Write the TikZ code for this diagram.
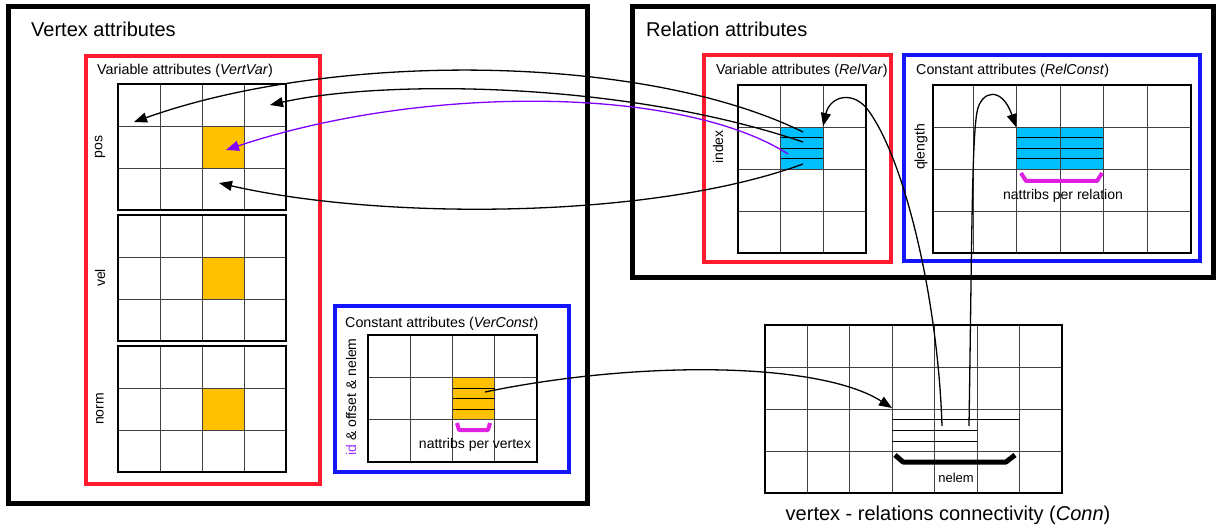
\documentclass[tikz,border=0pt]{standalone}
\usepackage{fontspec}
\setmainfont{Liberation Sans}
\usetikzlibrary{arrows.meta}
\definecolor{attorange}{HTML}{FFC000}
\definecolor{attcyan}{HTML}{00BFFF}
\definecolor{varred}{HTML}{FF1A2E}
\definecolor{constblue}{HTML}{1414FF}
\definecolor{linkpurple}{HTML}{8000FF}
\definecolor{bracketmag}{HTML}{E020E0}
\definecolor{idpurple}{HTML}{9B30FF}
% grid of cells: x0, y0, columns, rows, cell width, cell height
\newcommand{\attgrid}[6]{%
  \foreach \i in {1,...,#3} \draw[gridline] ({#1+\i*#5},#2) -- ++(0,{#4*#6});
  \foreach \j in {1,...,#4} \draw[gridline] (#1,{#2+\j*#6}) -- ++({#3*#5},0);
  \draw[gridborder] (#1,#2) rectangle ++({#3*#5},{#4*#6});
}
\begin{document}
\begin{tikzpicture}[x=1pt,y=-1pt,
    frame/.style={line width=5pt},
    varbox/.style={draw=varred, line width=3.2pt},
    constbox/.style={draw=constblue, line width=3.2pt},
    gridline/.style={draw=black!75, line width=0.9pt},
    gridborder/.style={draw=black, line width=2.4pt},
    stripe/.style={draw=black, line width=0.9pt},
    title/.style={font=\fontsize{20}{24}\selectfont, anchor=base west, inner sep=0pt},
    subtitle/.style={font=\fontsize{14.3}{17}\selectfont, anchor=base west, inner sep=0pt},
    lab/.style={font=\fontsize{14}{17}\selectfont, inner sep=0pt},
    bracket/.style={draw=bracketmag, line width=4pt, line join=round},
    link/.style={draw=black, line width=1.3pt, -{Triangle[length=13pt,width=10pt]}},
    plink/.style={link, draw=linkpurple, -{Triangle[length=13pt,width=10pt,fill=linkpurple]}}]
  \useasboundingbox (0,0) rectangle (1220,529);
  % frames
  \draw[frame] (8,7) rectangle (587,503);
  \draw[frame] (632,7) rectangle (1213,277);
  \draw[varbox] (86,56) rectangle (320,484);
  \draw[constbox] (335,306) rectangle (569,472);
  \draw[varbox] (704,55) rectangle (891,262);
  \draw[constbox] (904,55) rectangle (1200,261);
  % filled cells
  \foreach \y in {84,215,346} \fill[attorange] (202,{\y+42}) rectangle ++(42,42);
  \fill[attorange] (452.6,377.3) rectangle (494.9,419.6);
  \fill[attcyan] (780.7,127) rectangle (823.3,169);
  \fill[attcyan] (1016,127) rectangle (1103,169);
  % grids
  \foreach \y in {84,215,346} {\attgrid{118}{\y}{4}{3}{42}{42}}
  \attgrid{368}{335}{4}{3}{42.3}{42.3}
  \attgrid{738}{85}{3}{4}{42.67}{42}
  \draw[gridline] (973,85) -- (973,253);
  \foreach \x in {1016,1060,1103,1147} \draw[gridline] (\x,85) -- (\x,253);
  \foreach \y in {127,169,211} \draw[gridline] (933,\y) -- (1191,\y);
  \draw[gridborder] (933,85) rectangle (1191,253);
  \attgrid{765}{325}{7}{4}{42.43}{42}
  % stripes
  \foreach \y in {388,398.5,409} \draw[stripe] (452.6,\y) -- (494.9,\y);
  \foreach \y in {137.5,148,158.5} \draw[stripe] (780.7,\y) -- (823.3,\y);
  \foreach \y in {137.5,148,158.5} \draw[stripe] (1016,\y) -- (1103,\y);
  \draw[stripe] (892.3,419) -- (1019.6,419);
  \foreach \y in {430,441} \draw[stripe] (892.3,\y) -- (977.1,\y);
  % brackets
  \draw[bracket] (457,423) -- (459,430) -- (488,430) -- (490,423);
  \draw[bracket] (1021,173) -- (1026,181) -- (1097,181) -- (1102,173);
  \draw[line width=5pt, line join=round] (895,455) -- (903,462) -- (1006,462) -- (1015,455);
  % texts
  \node[title] (vtitle) at (31,37) {Vertex attributes};
  \node[title] (rtitle) at (646,37) {Relation attributes};
  \node[subtitle] (vvtitle) at (97,75) {Variable attributes (\textit{VertVar})};
  \node[subtitle] (vctitle) at (345,327) {Constant attributes (\textit{VerConst})};
  \node[subtitle] (rvtitle) at (716,75) {Variable attributes (\textit{RelVar})};
  \node[subtitle] (rctitle) at (916,75) {Constant attributes (\textit{RelConst})};
  \node[lab, rotate=90] (pos) at (100,147) {pos};
  \node[lab, rotate=90] (vel) at (100,278) {vel};
  \node[lab, rotate=90] (norm) at (100,409) {norm};
  \node[lab, rotate=90] (idoff) at (351,397) {{\color{idpurple}id} \& offset \& nelem};
  \node[lab, rotate=90] (index) at (718,147) {index};
  \node[lab, rotate=90] (qlength) at (921,147) {qlength};
  \node[lab, anchor=base] (npv) at (475,448) {nattribs per vertex};
  \node[lab, anchor=base] (npr) at (1063,200) {nattribs per relation};
  \node[lab, anchor=base, font=\fontsize{13}{15}\selectfont] (nelem) at (956,482) {nelem};
  \node[title, anchor=base] (conn) at (948,520) {vertex - relations connectivity (\textit{Conn})};
  % link ends
  \coordinate (rv1) at (803,132);
  \coordinate (rv2) at (803,142);
  \coordinate (rv3) at (788,154);
  \coordinate (rv4) at (803,164);
  \coordinate (vv1) at (134,122);
  \coordinate (vv2) at (270,105);
  \coordinate (vv3) at (226,150);
  \coordinate (vv4) at (219,183);
  \coordinate (vc) at (485,392);
  \coordinate (cn) at (892,408);
  \coordinate (cn1) at (942,426);
  \coordinate (cn2) at (969,426);
  \coordinate (rvin) at (823,126);
  \coordinate (rcin) at (1016,127);
  % links
  \draw[link] (rv1) .. controls (640,52) and (330,52) .. (vv1);
  \draw[link] (rv2) .. controls (620,80) and (380,80) .. (vv2);
  \draw[plink] (rv3) .. controls (680,85) and (420,85) .. (vv3);
  \draw[link] (rv4) .. controls (650,220) and (380,220) .. (vv4);
  \draw[link] (vc) .. controls (640,360) and (820,362) .. (cn);
  \draw[link] (cn1) .. controls (938,300) and (905,160) .. (868,110) .. controls (853,90) and (830,96) .. (rvin);
  \draw[link] (cn2) .. controls (972,230) and (972,140) .. (977,112) .. controls (981,90) and (1002,86) .. (rcin);
\end{tikzpicture}
\end{document}
